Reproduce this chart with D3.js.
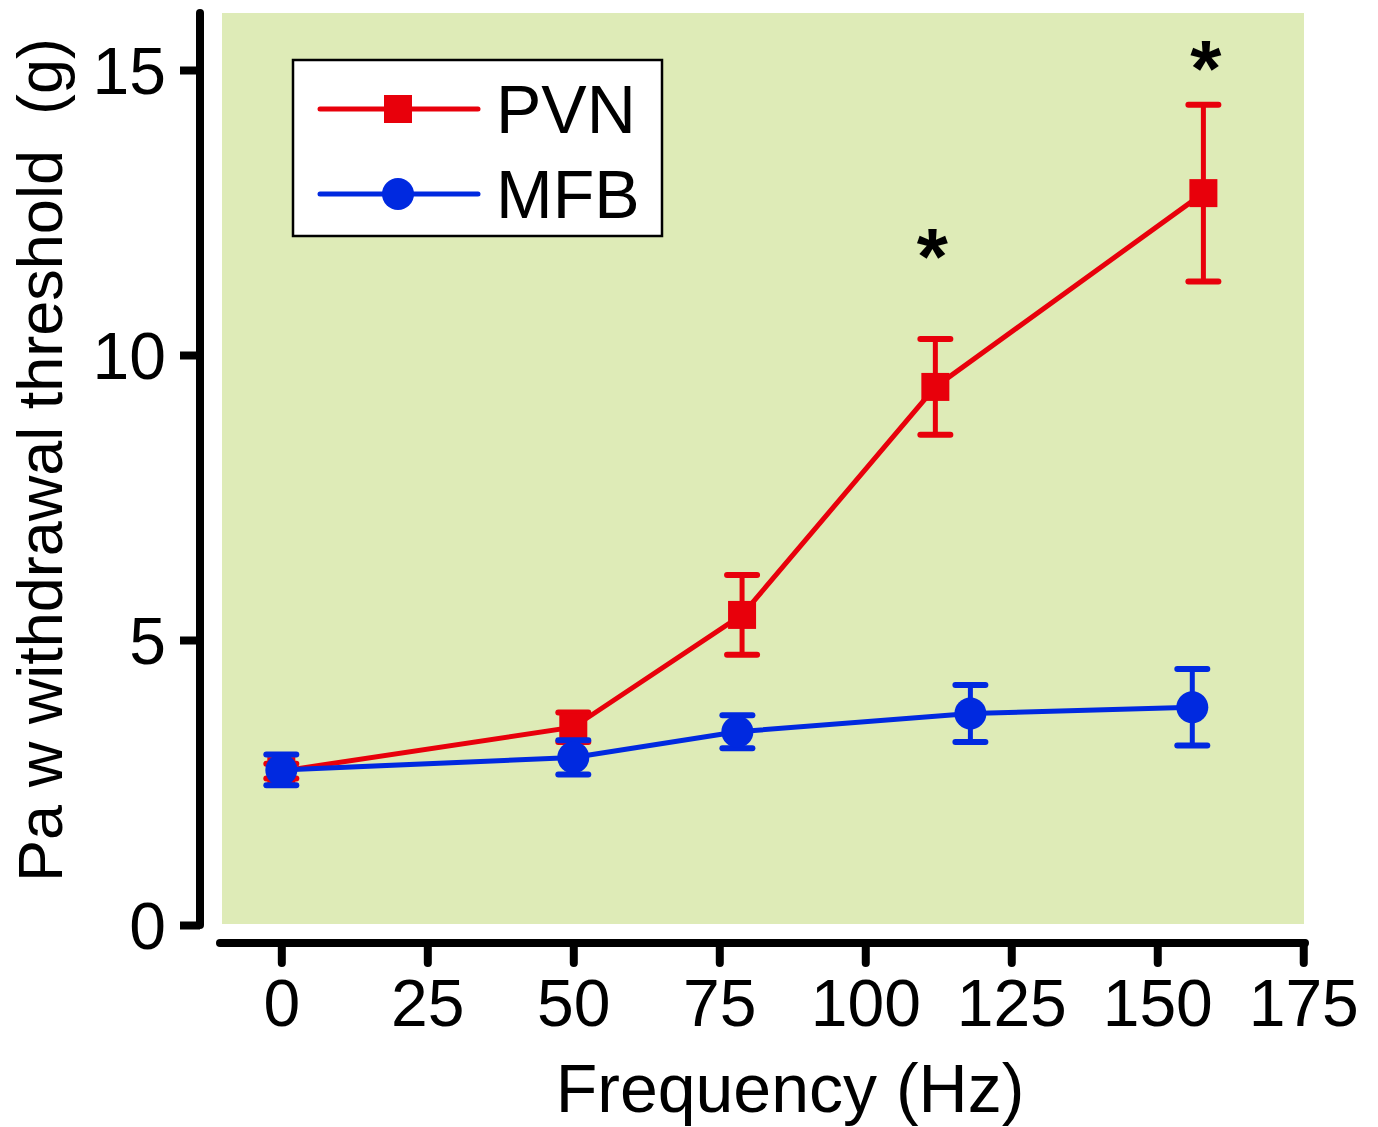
<!DOCTYPE html>
<html>
<head>
<meta charset="utf-8">
<script src="https://cdn.jsdelivr.net/npm/d3@7/dist/d3.min.js"></script>
<style>
  body { margin: 0; background: #fff; }
  svg { display: block; font-family: "Liberation Sans", Arial, sans-serif; }
</style>
</head>
<body>
<svg id="chart" width="1378" height="1127"></svg>
<script>
// values
var pvnHz   = [0, 50, 78.9, 112, 157.9];
var pvnMean = [2.7, 3.47, 5.44, 9.44, 12.84];
var pvnErr  = [0.13, 0.26, 0.7, 0.84, 1.55];

var mfbHz   = [0, 50, 78.1, 118, 156];
var mfbMean = [2.72, 2.94, 3.39, 3.71, 3.82];
var mfbErr  = [0.27, 0.3, 0.29, 0.5, 0.67];

var xTicks = [0, 25, 50, 75, 100, 125, 150, 175];
var yTicks = [0, 5, 10, 15];
var starsAt = [{hz: 111.5, v: 12.3}, {hz: 158.3, v: 15.6}];

var red = '#e8000b', blue = '#0029e0';

var svg = d3.select('#chart');

var x = d3.scaleLinear().domain([-10.5, 175.3]).range([220, 1305]);
var y = d3.scaleLinear().domain([0, 16]).range([925, 13]);

// plot background
svg.append('rect')
  .attr('x', 222).attr('y', 13)
  .attr('width', 1304 - 222).attr('height', 924 - 13)
  .attr('fill', '#deebb7');

// y axis
var yAxis = svg.append('g')
  .attr('transform', 'translate(200,0)')
  .call(d3.axisLeft(y).tickValues(yTicks).tickSize(20).tickSizeOuter(0).tickPadding(14));
yAxis.select('.domain').attr('stroke', '#000').attr('stroke-width', 8).attr('stroke-linecap', 'round')
  .attr('d', 'M0,' + 13 + 'V' + 925);
yAxis.selectAll('.tick line').attr('stroke', '#000').attr('stroke-width', 8);
yAxis.selectAll('.tick text').attr('font-size', 66).attr('font-family', '"Liberation Sans", Arial, sans-serif')
  .attr('fill', '#000').attr('dy', '0.36em');

// x axis
var xAxis = svg.append('g')
  .attr('transform', 'translate(0,943)')
  .call(d3.axisBottom(x).tickValues(xTicks).tickSize(20).tickSizeOuter(0).tickPadding(16));
xAxis.select('.domain').attr('stroke', '#000').attr('stroke-width', 8).attr('stroke-linecap', 'round')
  .attr('d', 'M' + 220 + ',0H' + 1305);
xAxis.selectAll('.tick line').attr('stroke', '#000').attr('stroke-width', 8).attr('stroke-linecap', 'round');
xAxis.selectAll('.tick text').attr('font-size', 66).attr('font-family', '"Liberation Sans", Arial, sans-serif')
  .attr('fill', '#000');

// axis titles
svg.append('text')
  .attr('x', 790).attr('y', 1112)
  .attr('text-anchor', 'middle')
  .attr('font-size', 68)
  .text('Frequency (Hz)');

svg.append('text')
  .attr('transform', 'translate(62,460) rotate(-90)')
  .attr('text-anchor', 'middle')
  .attr('font-size', 63)
  .attr('xml:space', 'preserve')
  .style('white-space', 'pre')
  .text('Pa w withdrawal threshold  (g)');

function drawSeries(hz, mean, err, color, shape) {
  var pts = hz.map(function(h, i) { return {hz: h, m: mean[i], e: err[i]}; });
  var g = svg.append('g');

  g.append('path')
    .datum(pts)
    .attr('fill', 'none')
    .attr('stroke', color)
    .attr('stroke-width', 5)
    .attr('d', d3.line().x(function(d) { return x(d.hz); }).y(function(d) { return y(d.m); }));

  var eb = g.selectAll('.eb').data(pts).enter().append('g');
  eb.append('line')
    .attr('x1', function(d) { return x(d.hz); }).attr('x2', function(d) { return x(d.hz); })
    .attr('y1', function(d) { return y(d.m + d.e); }).attr('y2', function(d) { return y(d.m - d.e); })
    .attr('stroke', color).attr('stroke-width', 5);
  [1, -1].forEach(function(s) {
    eb.append('line')
      .attr('x1', function(d) { return x(d.hz) - 15; }).attr('x2', function(d) { return x(d.hz) + 15; })
      .attr('y1', function(d) { return y(d.m + s * d.e); }).attr('y2', function(d) { return y(d.m + s * d.e); })
      .attr('stroke', color).attr('stroke-width', 6).attr('stroke-linecap', 'round');
  });

  if (shape === 'square') {
    g.selectAll('.mk').data(pts).enter().append('rect')
      .attr('x', function(d) { return x(d.hz) - 14; })
      .attr('y', function(d) { return y(d.m) - 14; })
      .attr('width', 28).attr('height', 28)
      .attr('fill', color);
  } else {
    g.selectAll('.mk').data(pts).enter().append('circle')
      .attr('cx', function(d) { return x(d.hz); })
      .attr('cy', function(d) { return y(d.m); })
      .attr('r', 16)
      .attr('fill', color);
  }
}

drawSeries(pvnHz, pvnMean, pvnErr, red, 'square');
drawSeries(mfbHz, mfbMean, mfbErr, blue, 'circle');

// significance stars
svg.selectAll('.star').data(starsAt).enter().append('text')
  .attr('x', function(d) { return x(d.hz); })
  .attr('y', function(d) { return y(d.v); })
  .attr('text-anchor', 'middle')
  .attr('font-size', 80)
  .attr('font-weight', 'bold')
  .attr('dy', '0.75em')
  .text('*');

// legend
var lg = svg.append('g');
lg.append('rect')
  .attr('x', 293).attr('y', 60).attr('width', 369).attr('height', 176)
  .attr('fill', '#fff').attr('stroke', '#000').attr('stroke-width', 2.5);
var legendItems = [
  {name: 'PVN', color: red, shape: 'square', cy: 109},
  {name: 'MFB', color: blue, shape: 'circle', cy: 194}
];
legendItems.forEach(function(it) {
  lg.append('line')
    .attr('x1', 320).attr('x2', 478).attr('y1', it.cy).attr('y2', it.cy)
    .attr('stroke', it.color).attr('stroke-width', 5).attr('stroke-linecap', 'round');
  if (it.shape === 'square') {
    lg.append('rect').attr('x', 384).attr('y', it.cy - 14).attr('width', 28).attr('height', 28).attr('fill', it.color);
  } else {
    lg.append('circle').attr('cx', 398).attr('cy', it.cy).attr('r', 16).attr('fill', it.color);
  }
  lg.append('text')
    .attr('x', 496).attr('y', it.cy + 24)
    .attr('font-size', 68)
    .text(it.name);
});
</script>
</body>
</html>
